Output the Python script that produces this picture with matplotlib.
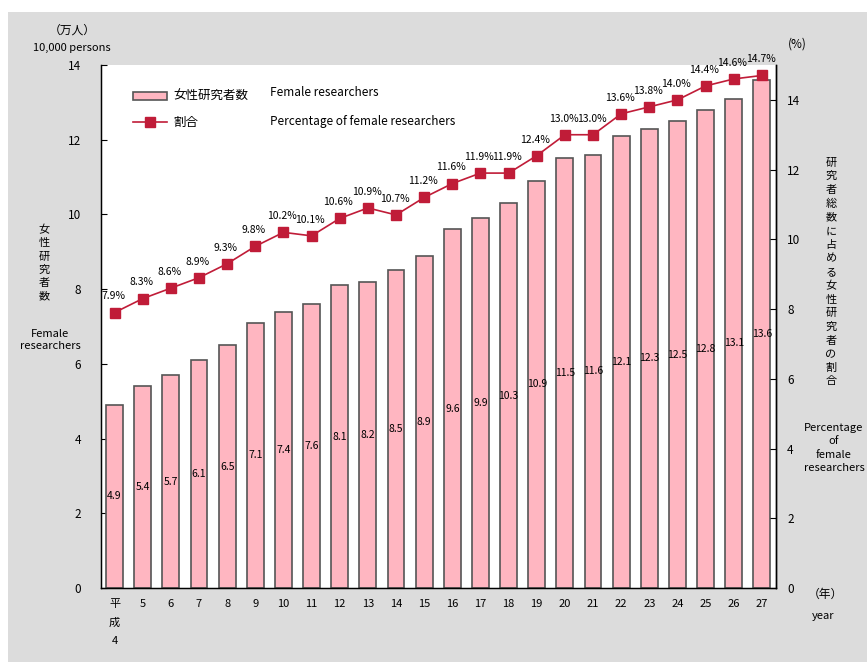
import matplotlib
matplotlib.use("Agg")
import matplotlib.pyplot as plt
from matplotlib.patches import Rectangle, Patch
from matplotlib.lines import Line2D

plt.rcParams['font.family'] = ['Noto Sans CJK JP', 'DejaVu Sans']

# Heisei years 4-27
year_labels = ['平\n成\n4', '5', '6', '7', '8', '9', '10', '11', '12', '13', '14', '15',
               '16', '17', '18', '19', '20', '21', '22', '23', '24', '25', '26', '27']
# Female researchers (10,000 persons)
female_researchers = [4.9, 5.4, 5.7, 6.1, 6.5, 7.1, 7.4, 7.6, 8.1, 8.2, 8.5, 8.9,
                      9.6, 9.9, 10.3, 10.9, 11.5, 11.6, 12.1, 12.3, 12.5, 12.8, 13.1, 13.6]
# Share of female researchers among all researchers (%)
female_share = [7.9, 8.3, 8.6, 8.9, 9.3, 9.8, 10.2, 10.1, 10.6, 10.9, 10.7, 11.2,
                11.6, 11.9, 11.9, 12.4, 13.0, 13.0, 13.6, 13.8, 14.0, 14.4, 14.6, 14.7]
left_ticks = [0, 2, 4, 6, 8, 10, 12, 14]
right_ticks = [0, 2, 4, 6, 8, 10, 12, 14]

W, H = 867, 662
fig = plt.figure(figsize=(W / 100, H / 100), dpi=100, facecolor='white')

# grey panel behind the chart
fig.patches.append(Rectangle((8 / W, 0), 1 - 8 / W, 1 - 12 / H, transform=fig.transFigure,
                             facecolor='#dcdcdc', edgecolor='none', zorder=-10))

ax = fig.add_axes([100.5 / W, 74 / H, 675.5 / W, 523 / H])
ax.set_facecolor('white')
x = list(range(len(year_labels)))

bar_color = '#ffb6c1'
line_color = '#c01c38'
ax.bar(x, female_researchers, width=0.6, color=bar_color, edgecolor='#555555',
       linewidth=1.2, zorder=2)
for xi, v in zip(x, female_researchers):
    ax.text(xi, v / 2, f'{v:.1f}', ha='center', va='center', fontsize=7.5, color='black', zorder=3)

ax.set_xlim(-0.5, 23.5)
ax.set_ylim(0, 14)
ax.set_yticks(left_ticks)
ax.set_xticks(x)
ax.set_xticklabels(year_labels, fontsize=8)
for t in ax.get_xticklabels():
    t.set_linespacing(2.05)
ax.tick_params(axis='x', length=0, pad=8)
ax.tick_params(axis='y', direction='in', length=4, labelsize=8.5, pad=14)
for s in ['left', 'bottom', 'right']:
    ax.spines[s].set_color('black')
    ax.spines[s].set_linewidth(1.0)
ax.spines['top'].set_visible(False)

ax2 = ax.twinx()
ax2.set_ylim(0, 15)
ax2.set_yticks(right_ticks)
ax2.tick_params(axis='y', direction='in', length=4, labelsize=8.5, pad=8)
ax2.spines['top'].set_visible(False)
ax2.spines['right'].set_linewidth(1.0)
ax2.plot(x, female_share, color=line_color, linewidth=1.2, marker='s', markersize=7.5,
         markerfacecolor=line_color, markeredgecolor=line_color, zorder=4)
for xi, v in zip(x, female_share):
    ax2.annotate(f'{v:.1f}%', (xi, v), xytext=(-1, 8), textcoords='offset points',
                 ha='center', va='bottom', fontsize=7.5, color='black')

# legend
handles = [Patch(facecolor=bar_color, edgecolor='#555555', linewidth=1.2),
           Line2D([0], [0], color=line_color, linewidth=1.2, marker='s', markersize=7.5)]
fig.legend(handles, ['女性研究者数', '割合'], loc='upper left',
           bbox_to_anchor=(122 / W, 1 - 79 / H), frameon=False, fontsize=9,
           handlelength=2.7, handleheight=0.6, labelspacing=1.0, handletextpad=0.5)
fig.text(270 / W, 1 - 93 / H, 'Female researchers', fontsize=8.5, va='center', ha='left')
fig.text(270 / W, 1 - 121 / H, 'Percentage of female researchers', fontsize=8.5,
         va='center', ha='left')

# axis captions
fig.text(72 / W, 1 - 30 / H, '（万人）', fontsize=8.5, ha='center', va='center')
fig.text(72 / W, 1 - 48 / H, '10,000 persons', fontsize=8, ha='center', va='center')
fig.text(44 / W, 1 - 263 / H, '女\n性\n研\n究\n者\n数', fontsize=8, ha='center', va='center',
         linespacing=1.4)
fig.text(50 / W, 1 - 340 / H, 'Female\nresearchers', fontsize=8, ha='center', va='center',
         linespacing=1.3)
fig.text(797 / W, 1 - 44 / H, '(%)', fontsize=8.5, ha='center', va='center')
fig.text(831 / W, 1 - 272 / H, '\n'.join('研究者総数に占める女性研究者の割合'),
         fontsize=8, ha='center', va='center', linespacing=1.45)
fig.text(834 / W, 1 - 448 / H, 'Percentage\nof\nfemale\nresearchers', fontsize=8,
         ha='center', va='center', linespacing=1.4)
fig.text(825 / W, 1 - 594 / H, '（年）', fontsize=8.5, ha='center', va='center')
fig.text(823 / W, 1 - 616 / H, 'year', fontsize=8, ha='center', va='center')

fig.savefig('out.png', dpi=100, facecolor=fig.get_facecolor())
